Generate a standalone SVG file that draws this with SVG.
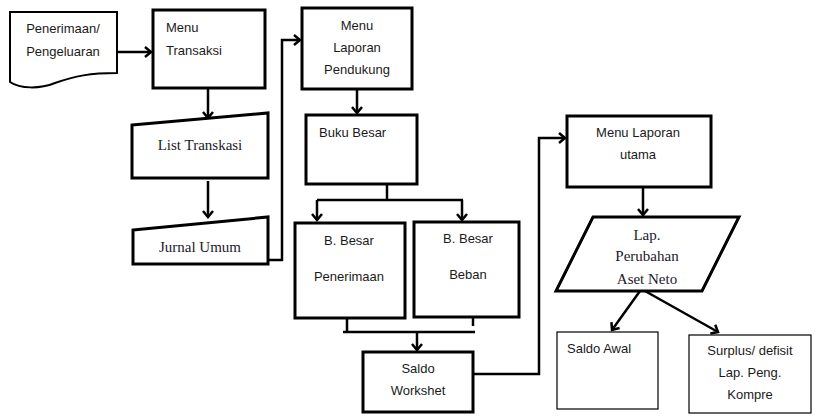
<svg xmlns="http://www.w3.org/2000/svg" width="816" height="416" viewBox="0 0 816 416">
<defs>
<marker id="arr" markerWidth="12" markerHeight="12" refX="9" refY="6" orient="auto" markerUnits="userSpaceOnUse">
<path d="M3,1 L9,6 L3,11" fill="none" stroke="#000" stroke-width="2.5"/>
</marker>
<style>
.b{fill:#fff;stroke:#000;stroke-width:3}
.t{fill:#fff;stroke:#000;stroke-width:1.2}
.s{font-family:"Liberation Sans",Arial,sans-serif;font-size:13px;fill:#1a1a1a}
.r{font-family:"Liberation Serif","Times New Roman",serif;font-size:15px;fill:#1a1a2a}
.c{text-anchor:middle}
.l{fill:none;stroke:#000;stroke-width:2.5}
</style>
</defs>
<rect width="816" height="416" fill="#fff"/>
<g id="connectors">
<path class="l" d="M117,52 H151" marker-end="url(#arr)"/>
<path class="l" d="M208,88 V118" marker-end="url(#arr)"/>
<path class="l" d="M208,181 V217" marker-end="url(#arr)"/>
<path class="l" d="M268,260 H282 V40 H300" marker-end="url(#arr)"/>
<path class="l" d="M357,89 V113" marker-end="url(#arr)"/>
<path class="l" d="M387,184 V200"/>
<path class="l" d="M317,200 H463"/>
<path class="l" d="M317,200 V220" marker-end="url(#arr)"/>
<path class="l" d="M462,200 V220" marker-end="url(#arr)"/>
<path class="l" d="M347,318 V332"/>
<path class="l" d="M473,317 V326"/>
<path class="l" d="M343,332 H475"/>
<path class="l" d="M417,332 V350" marker-end="url(#arr)"/>
<path class="l" d="M473,374 H539 V138 H565" marker-end="url(#arr)"/>
<path class="l" d="M643,187 V215" marker-end="url(#arr)"/>
<path class="l" d="M640,291 L612,330" marker-end="url(#arr)"/>
<path class="l" d="M645,291 L718,332" marker-end="url(#arr)"/>
</g>
<g id="penerimaan">
<path d="M10,12 H117 V73 C90,73 75,76 55,83 C40,89 20,89 10,82 Z" fill="#fff" stroke="#000" stroke-width="2"/>
<text class="s c" x="63" y="33">Penerimaan/</text>
<text class="s c" x="63" y="56">Pengeluaran</text>
</g>
<g id="menu-transaksi">
<rect class="b" x="153" y="10" width="112" height="78"/>
<text class="s" x="166" y="32">Menu</text>
<text class="s" x="166" y="55">Transaksi</text>
</g>
<g id="list-transkasi">
<path class="b" d="M132,125 L268,113 V178 H132 Z"/>
<text class="r c" x="200" y="150">List Transkasi</text>
</g>
<g id="jurnal-umum">
<path class="b" d="M133,230 L268,217 V264 H133 Z" stroke-width="2.5"/>
<text class="r c" x="200" y="252">Jurnal Umum</text>
</g>
<g id="menu-laporan-pendukung">
<rect class="b" x="302" y="8" width="110" height="81"/>
<text class="s c" x="357" y="30">Menu</text>
<text class="s c" x="357" y="52">Laporan</text>
<text class="s c" x="357" y="74">Pendukung</text>
</g>
<g id="buku-besar">
<rect class="b" x="306" y="115" width="111" height="69"/>
<text class="s" x="319" y="137">Buku Besar</text>
</g>
<g id="bb-penerimaan">
<rect class="b" x="295" y="223" width="110" height="95"/>
<text class="s c" x="349" y="245">B. Besar</text>
<text class="s c" x="349" y="281">Penerimaan</text>
</g>
<g id="bb-beban">
<rect class="b" x="414" y="222" width="105" height="95"/>
<text class="s c" x="468" y="243">B. Besar</text>
<text class="s c" x="468" y="279">Beban</text>
</g>
<g id="saldo-workshet">
<rect class="b" x="363" y="352" width="110" height="60"/>
<text class="s c" x="418" y="373">Saldo</text>
<text class="s c" x="418" y="395">Workshet</text>
</g>
<g id="menu-laporan-utama">
<rect class="b" x="567" y="116" width="144" height="71"/>
<text class="s c" x="638" y="137">Menu Laporan</text>
<text class="s c" x="638" y="159">utama</text>
</g>
<g id="lap-perubahan">
<path class="b" d="M593,217 H739 L702,291 H556 Z"/>
<text class="r c" x="647" y="240">Lap.</text>
<text class="r c" x="647" y="261">Perubahan</text>
<text class="r c" x="647" y="284">Aset Neto</text>
</g>
<g id="saldo-awal">
<rect class="t" x="557" y="332" width="101" height="77"/>
<text class="s" x="567" y="353">Saldo Awal</text>
</g>
<g id="surplus">
<rect class="t" x="689" y="335" width="122" height="78"/>
<text class="s c" x="750" y="355">Surplus/ defisit</text>
<text class="s c" x="750" y="377">Lap. Peng.</text>
<text class="s c" x="750" y="399">Kompre</text>
</g>
</svg>
